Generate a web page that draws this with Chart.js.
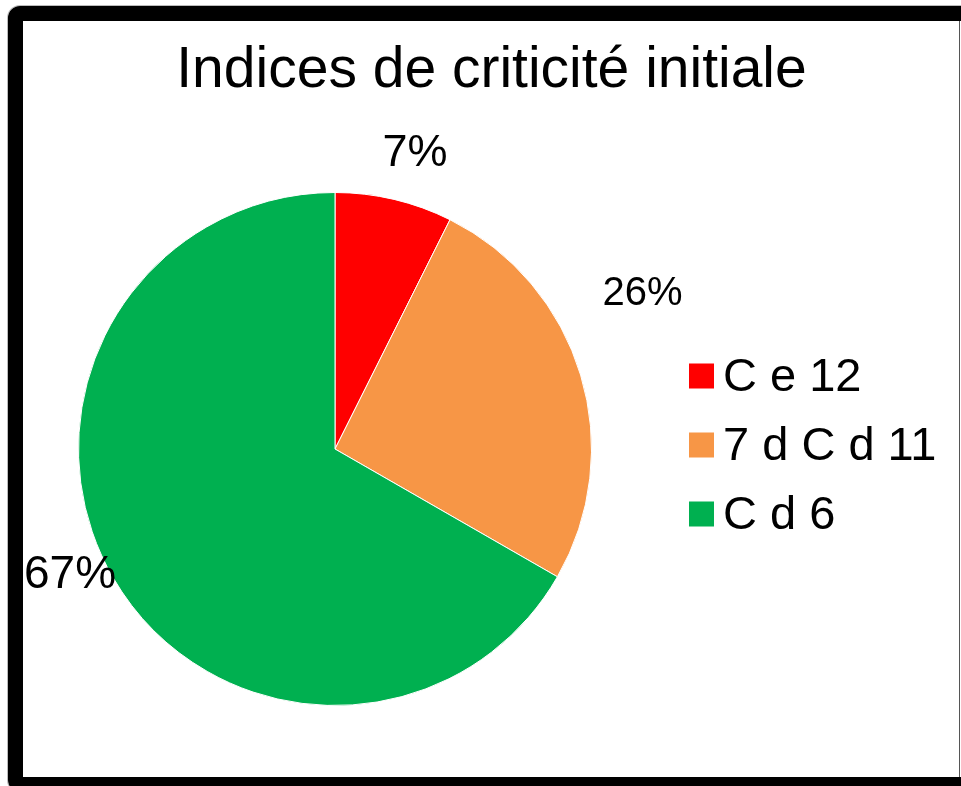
<!DOCTYPE html>
<html>
<head>
<meta charset="utf-8">
<script src="https://cdn.jsdelivr.net/npm/chart.js@4/dist/chart.umd.min.js"></script>
<style>
  html, body { margin: 0; padding: 0; width: 961px; height: 786px; overflow: hidden; background: #fff; }
  #frame { position: absolute; left: 8px; top: 6px; width: 1100px; height: 786px; box-sizing: border-box;
           border: 15px solid #000; border-radius: 12px; box-shadow: 0 0 0 1px #bbb; }
  #edge { position: absolute; left: 959px; top: 21px; width: 1px; height: 756px; background: #555; }
  #c { position: absolute; left: 23px; top: 21px; }
</style>
</head>
<body>
<div id="frame"></div>
<div id="edge"></div>
<canvas id="c" width="937" height="756"></canvas>
<script>
// ---- data ----
const title = 'Indices de criticité initiale';
const categories = ['C e 12', '7 d C d 11', 'C d 6'];
const values = [7.4, 25.9, 66.7];
const colors = ['#FF0000', '#F79646', '#00B050'];

// ---- style ----
const FONT = "'Liberation Sans', Arial, sans-serif";
const labelSizes = [45, 40, 46];
const labelOffsets = [[21, -46], [62, -81], [-43, -2]];
const LEFT_W = 55, RIGHT_W = 368;
const LEG_SQ_X = 97, LEG_TEXT_X = 131, LEG_SQ = 25, LEG_STEP = 69, LEG_SHIFT = -4, LEG_FONT = 47;

function spacerBox(position, width, drawFn) {
  return {
    position: position, fullSize: false, weight: 0, options: {},
    isHorizontal() { return false; },
    update(maxW, maxH) { this.width = width; this.height = maxH; return {width: width, height: maxH}; },
    draw() { if (drawFn) drawFn(this); }
  };
}

const boxesPlugin = {
  id: 'sideBoxes',
  beforeInit(chart) {
    Chart.layouts.addBox(chart, spacerBox('left', LEFT_W));
    Chart.layouts.addBox(chart, spacerBox('right', RIGHT_W, function (box) {
      const ctx = chart.ctx;
      const cy = (box.top + box.bottom) / 2 + LEG_SHIFT;
      ctx.save();
      ctx.font = LEG_FONT + 'px ' + FONT;
      ctx.textBaseline = 'middle';
      ctx.textAlign = 'left';
      categories.forEach((cat, i) => {
        const y = cy + (i - 1) * LEG_STEP;
        ctx.fillStyle = colors[i];
        ctx.fillRect(box.left + LEG_SQ_X, y - LEG_SQ / 2, LEG_SQ, LEG_SQ);
        ctx.fillStyle = '#000';
        ctx.fillText(cat, box.left + LEG_TEXT_X, y + 2);
      });
      ctx.restore();
    }));
  }
};

const labelsPlugin = {
  id: 'pctLabels',
  afterDatasetsDraw(chart) {
    const ctx = chart.ctx;
    const meta = chart.getDatasetMeta(0);
    const total = values.reduce((a, b) => a + b, 0);
    ctx.save();
    ctx.fillStyle = '#000';
    ctx.textAlign = 'center';
    ctx.textBaseline = 'middle';
    meta.data.forEach((arc, i) => {
      const p = arc.getProps(['x', 'y', 'startAngle', 'endAngle', 'outerRadius'], true);
      const mid = (p.startAngle + p.endAngle) / 2;
      const ax = p.x + Math.cos(mid) * p.outerRadius;
      const ay = p.y + Math.sin(mid) * p.outerRadius;
      ctx.font = labelSizes[i] + 'px ' + FONT;
      ctx.fillText(Math.round(values[i] / total * 100) + '%', ax + labelOffsets[i][0], ay + labelOffsets[i][1]);
    });
    ctx.restore();
  }
};

new Chart(document.getElementById('c'), {
  type: 'pie',
  data: {
    labels: categories,
    datasets: [{ data: values, backgroundColor: colors, borderColor: '#ffffff', borderWidth: 1 }]
  },
  options: {
    responsive: false,
    animation: false,
    devicePixelRatio: 1,
    layout: { padding: { top: 0, left: 0, right: 0, bottom: 71 } },
    plugins: {
      legend: { display: false },
      tooltip: { enabled: false },
      title: {
        display: true,
        text: title,
        color: '#000',
        font: { family: FONT, size: 57, weight: 'normal', lineHeight: 1.2 },
        padding: { top: 16, bottom: 86.6 }
      }
    }
  },
  plugins: [boxesPlugin, labelsPlugin]
});
</script>
</body>
</html>
